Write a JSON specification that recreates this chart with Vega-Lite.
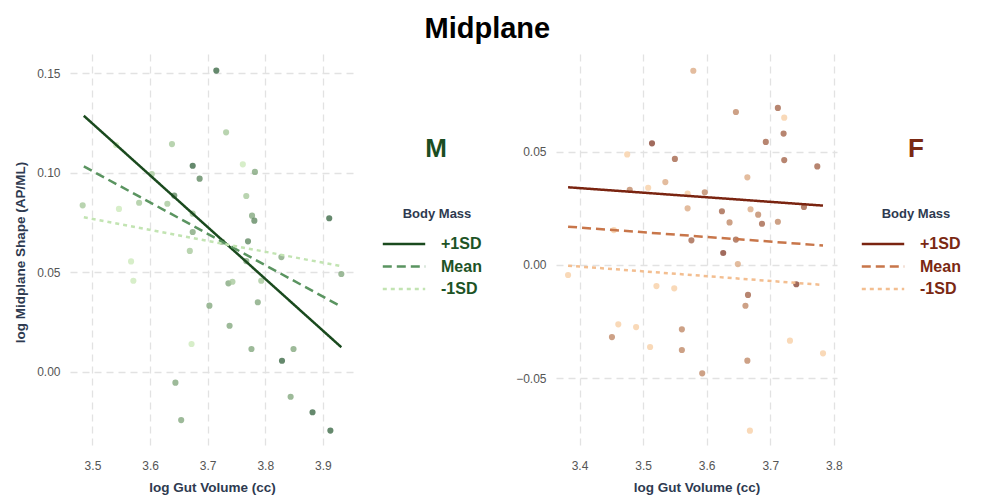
{
  "$schema": "https://vega.github.io/schema/vega-lite/v6.json",
  "padding": {"left": 13, "top": 15, "right": 5, "bottom": 5},
  "background": "white",
  "title": {"text": "Midplane", "fontSize": 29, "fontWeight": "bold", "font": "Liberation Sans", "color": "#000000", "anchor": "middle", "offset": 10},
  "datasets": {
    "m_points": [
      {"gut": 3.715, "shape": 0.1513, "mass": 5}, {"gut": 3.732, "shape": 0.1203, "mass": 2}, {"gut": 3.638, "shape": 0.1144, "mass": 2},
      {"gut": 3.674, "shape": 0.1035, "mass": 5}, {"gut": 3.686, "shape": 0.097, "mass": 4}, {"gut": 3.761, "shape": 0.1042, "mass": 1},
      {"gut": 3.782, "shape": 0.1004, "mass": 3}, {"gut": 3.603, "shape": 0.0993, "mass": 2}, {"gut": 3.541, "shape": 0.1139, "mass": 1},
      {"gut": 3.483, "shape": 0.0836, "mass": 2}, {"gut": 3.546, "shape": 0.0818, "mass": 1}, {"gut": 3.581, "shape": 0.0849, "mass": 2},
      {"gut": 3.63, "shape": 0.0844, "mass": 2}, {"gut": 3.642, "shape": 0.0885, "mass": 4}, {"gut": 3.767, "shape": 0.0883, "mass": 2},
      {"gut": 3.777, "shape": 0.0784, "mass": 3}, {"gut": 3.781, "shape": 0.0759, "mass": 4}, {"gut": 3.911, "shape": 0.0771, "mass": 5},
      {"gut": 3.674, "shape": 0.0794, "mass": 2}, {"gut": 3.674, "shape": 0.0702, "mass": 3}, {"gut": 3.669, "shape": 0.0607, "mass": 2},
      {"gut": 3.77, "shape": 0.0655, "mass": 4}, {"gut": 3.725, "shape": 0.0653, "mass": 3}, {"gut": 3.828, "shape": 0.0576, "mass": 3},
      {"gut": 3.767, "shape": 0.0556, "mass": 3}, {"gut": 3.567, "shape": 0.0554, "mass": 1}, {"gut": 3.571, "shape": 0.0457, "mass": 1},
      {"gut": 3.736, "shape": 0.0444, "mass": 3}, {"gut": 3.743, "shape": 0.0452, "mass": 2}, {"gut": 3.793, "shape": 0.0457, "mass": 2},
      {"gut": 3.932, "shape": 0.0491, "mass": 3}, {"gut": 3.703, "shape": 0.0332, "mass": 3}, {"gut": 3.787, "shape": 0.0349, "mass": 3},
      {"gut": 3.738, "shape": 0.0231, "mass": 3}, {"gut": 3.672, "shape": 0.0139, "mass": 1}, {"gut": 3.776, "shape": 0.0114, "mass": 3},
      {"gut": 3.849, "shape": 0.0114, "mass": 3}, {"gut": 3.829, "shape": 0.0055, "mass": 5}, {"gut": 3.644, "shape": -0.0055, "mass": 3},
      {"gut": 3.844, "shape": -0.0126, "mass": 3}, {"gut": 3.654, "shape": -0.0243, "mass": 3}, {"gut": 3.882, "shape": -0.0204, "mass": 5},
      {"gut": 3.913, "shape": -0.0296, "mass": 5}
    ],
    "m_lines": [
      {"level": "+1SD", "gut": 3.485, "shape": 0.1286}, {"level": "+1SD", "gut": 3.932, "shape": 0.0123},
      {"level": "Mean", "gut": 3.485, "shape": 0.1032}, {"level": "Mean", "gut": 3.932, "shape": 0.0327},
      {"level": "-1SD", "gut": 3.485, "shape": 0.0776}, {"level": "-1SD", "gut": 3.932, "shape": 0.053}
    ],
    "f_points": [
      {"gut": 3.579, "shape": 0.0857, "mass": 2}, {"gut": 3.646, "shape": 0.0675, "mass": 3}, {"gut": 3.712, "shape": 0.0693, "mass": 4},
      {"gut": 3.722, "shape": 0.065, "mass": 1}, {"gut": 3.721, "shape": 0.058, "mass": 4}, {"gut": 3.693, "shape": 0.0543, "mass": 4},
      {"gut": 3.722, "shape": 0.0463, "mass": 4}, {"gut": 3.774, "shape": 0.0435, "mass": 4}, {"gut": 3.514, "shape": 0.0537, "mass": 5},
      {"gut": 3.475, "shape": 0.0488, "mass": 1}, {"gut": 3.55, "shape": 0.0468, "mass": 4}, {"gut": 3.535, "shape": 0.0366, "mass": 2},
      {"gut": 3.508, "shape": 0.0341, "mass": 1}, {"gut": 3.479, "shape": 0.0332, "mass": 3}, {"gut": 3.57, "shape": 0.0315, "mass": 1},
      {"gut": 3.597, "shape": 0.0321, "mass": 3}, {"gut": 3.664, "shape": 0.0387, "mass": 2}, {"gut": 3.57, "shape": 0.025, "mass": 2},
      {"gut": 3.624, "shape": 0.0237, "mass": 4}, {"gut": 3.669, "shape": 0.0246, "mass": 2}, {"gut": 3.681, "shape": 0.0222, "mass": 3},
      {"gut": 3.636, "shape": 0.0188, "mass": 3}, {"gut": 3.687, "shape": 0.0182, "mass": 4}, {"gut": 3.712, "shape": 0.0191, "mass": 3},
      {"gut": 3.753, "shape": 0.0256, "mass": 4}, {"gut": 3.454, "shape": 0.0154, "mass": 1}, {"gut": 3.576, "shape": 0.0109, "mass": 4},
      {"gut": 3.646, "shape": 0.0112, "mass": 4}, {"gut": 3.626, "shape": 0.0053, "mass": 5}, {"gut": 3.649, "shape": 0.0004, "mass": 2},
      {"gut": 3.382, "shape": -0.0044, "mass": 1}, {"gut": 3.521, "shape": -0.0093, "mass": 1}, {"gut": 3.549, "shape": -0.0103, "mass": 1},
      {"gut": 3.741, "shape": -0.0085, "mass": 5}, {"gut": 3.665, "shape": -0.0132, "mass": 4}, {"gut": 3.661, "shape": -0.018, "mass": 3},
      {"gut": 3.461, "shape": -0.0262, "mass": 1}, {"gut": 3.489, "shape": -0.0274, "mass": 1}, {"gut": 3.451, "shape": -0.0318, "mass": 3},
      {"gut": 3.561, "shape": -0.0284, "mass": 3}, {"gut": 3.511, "shape": -0.0362, "mass": 1}, {"gut": 3.561, "shape": -0.0375, "mass": 3},
      {"gut": 3.731, "shape": -0.0334, "mass": 1}, {"gut": 3.783, "shape": -0.039, "mass": 1}, {"gut": 3.664, "shape": -0.0422, "mass": 3},
      {"gut": 3.593, "shape": -0.0478, "mass": 3}, {"gut": 3.668, "shape": -0.0731, "mass": 1}
    ],
    "f_lines": [
      {"level": "+1SD", "gut": 3.382, "shape": 0.0343}, {"level": "+1SD", "gut": 3.783, "shape": 0.0262},
      {"level": "Mean", "gut": 3.382, "shape": 0.0169}, {"level": "Mean", "gut": 3.783, "shape": 0.0086},
      {"level": "-1SD", "gut": 3.382, "shape": -0.0003}, {"level": "-1SD", "gut": 3.783, "shape": -0.0088}
    ]
  },
  "spacing": 33,
  "resolve": {
    "scale": {"fill": "independent", "stroke": "independent", "strokeDash": "independent"},
    "legend": {"fill": "independent", "stroke": "independent", "strokeDash": "independent"}
  },
  "hconcat": [
    {
      "width": 284,
      "height": 396,
      "title": {"text": "M", "fontSize": 26, "fontWeight": "bold", "color": "#1b4d22", "anchor": "end", "frame": "group", "align": "center", "dx": 82, "dy": 112},
      "layer": [
        {
          "data": {"name": "m_points"},
          "mark": {"type": "circle", "size": 38, "opacity": 0.8},
          "encoding": {
            "x": {"field": "gut", "type": "quantitative", "scale": {"domain": [3.461, 3.954], "nice": false, "zero": false}, "axis": {"values": [3.5, 3.6, 3.7, 3.8, 3.9], "format": ".1f", "title": "log Gut Volume (cc)"}},
            "y": {"field": "shape", "type": "quantitative", "scale": {"domain": [-0.03935, 0.15965], "nice": false, "zero": false}, "axis": {"values": [0, 0.05, 0.1, 0.15], "format": ".2f", "title": "log Midplane Shape (AP/ML)"}},
            "fill": {"field": "mass", "type": "quantitative", "scale": {"domain": [1, 5], "range": ["#cdeabb", "#3f6b48"]}, "legend": null}
          }
        },
        {
          "data": {"name": "m_lines"},
          "mark": {"type": "line", "strokeWidth": 2.5},
          "encoding": {
            "x": {"field": "gut", "type": "quantitative"},
            "y": {"field": "shape", "type": "quantitative"},
            "stroke": {"field": "level", "type": "nominal", "scale": {"domain": ["+1SD", "Mean", "-1SD"], "range": ["#1a4a1e", "#5a9460", "#c2e4b2"]}, "legend": {"title": "Body Mass", "labelColor": "#1d5325", "orient": "none", "legendX": 322, "legendY": 154}},
            "strokeDash": {"field": "level", "type": "nominal", "scale": {"domain": ["+1SD", "Mean", "-1SD"], "range": [[1, 0], [9, 5], [4, 4]]}, "legend": {"title": "Body Mass", "labelColor": "#1d5325", "orient": "none", "legendX": 322, "legendY": 154}}
          }
        }
      ]
    },
    {
      "width": 281,
      "height": 396,
      "title": {"text": "F", "fontSize": 26, "fontWeight": "bold", "color": "#7a2812", "anchor": "end", "frame": "group", "align": "center", "dx": 79, "dy": 112},
      "layer": [
        {
          "data": {"name": "f_points"},
          "mark": {"type": "circle", "size": 38, "opacity": 0.8},
          "encoding": {
            "x": {"field": "gut", "type": "quantitative", "scale": {"domain": [3.363, 3.805], "nice": false, "zero": false}, "axis": {"values": [3.4, 3.5, 3.6, 3.7, 3.8], "format": ".1f", "title": "log Gut Volume (cc)"}},
            "y": {"field": "shape", "type": "quantitative", "scale": {"domain": [-0.08164, 0.09311], "nice": false, "zero": false}, "axis": {"values": [-0.05, 0, 0.05], "format": ".2f", "title": null}},
            "fill": {"field": "mass", "type": "quantitative", "scale": {"domain": [1, 5], "range": ["#f7cfa6", "#8a4634"]}, "legend": null}
          }
        },
        {
          "data": {"name": "f_lines"},
          "mark": {"type": "line", "strokeWidth": 2.5},
          "encoding": {
            "x": {"field": "gut", "type": "quantitative"},
            "y": {"field": "shape", "type": "quantitative"},
            "stroke": {"field": "level", "type": "nominal", "scale": {"domain": ["+1SD", "Mean", "-1SD"], "range": ["#7a2410", "#c8764a", "#f3be90"]}, "legend": {"title": "Body Mass", "labelColor": "#7a2812", "orient": "none", "legendX": 315, "legendY": 154}},
            "strokeDash": {"field": "level", "type": "nominal", "scale": {"domain": ["+1SD", "Mean", "-1SD"], "range": [[1, 0], [9, 5], [4, 4]]}, "legend": {"title": "Body Mass", "labelColor": "#7a2812", "orient": "none", "legendX": 315, "legendY": 154}}
          }
        }
      ]
    }
  ],
  "config": {
    "view": {"stroke": null},
    "font": "Liberation Sans",
    "axis": {"domain": false, "ticks": false, "grid": true, "gridColor": "#e2e2e2", "gridDash": [7, 5], "gridWidth": 1.3, "labelColor": "#555555", "labelFontSize": 12, "labelPadding": 10, "titleColor": "#2e3a50", "titleFontSize": 13.5, "titleFontWeight": "bold", "titlePadding": 9},
    "legend": {"symbolType": "M-2,0H2", "symbolSize": 450, "symbolStrokeWidth": 2.5, "labelFontSize": 16, "labelFontWeight": "bold", "labelOffset": 25, "titleFontSize": 13, "titleColor": "#2e3a50", "titleFontWeight": "bold", "titleAnchor": "middle", "titlePadding": 11, "rowPadding": 2.5, "padding": 0}
  }
}
